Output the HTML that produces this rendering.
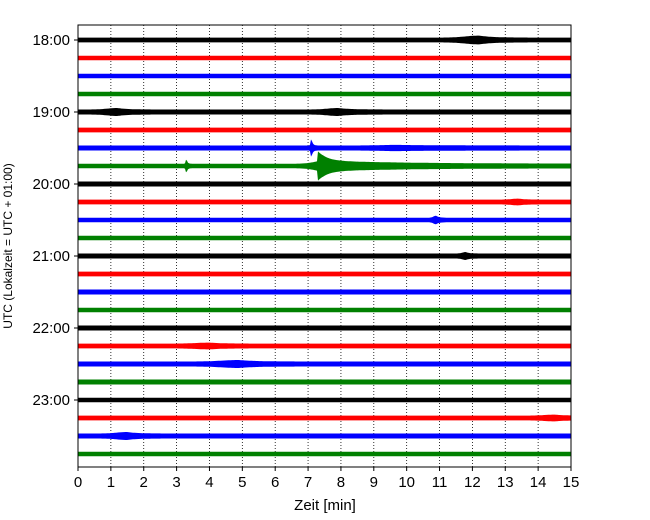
<!DOCTYPE html>
<html><head><meta charset="utf-8"><style>
body{margin:0;background:#fff;}
svg{display:block;font-family:"Liberation Sans","DejaVu Sans",sans-serif;}
</style></head><body>
<svg id="chart" width="650" height="520" viewBox="0 0 650 520">
<g id="grid"></g>
<g id="traces"></g>
<rect x="78" y="25" width="493" height="442" fill="none" stroke="#000" stroke-width="1"/>
<g id="xticks"></g>
<g id="yticks"></g>
<text x="325" y="510" font-size="15" text-anchor="middle">Zeit  [min]</text>
<text transform="translate(12,246) rotate(-90)" font-size="12" text-anchor="middle">UTC (Lokalzeit = UTC + 01:00)</text>
</svg>
<script>
const xTicks=[0,1,2,3,4,5,6,7,8,9,10,11,12,13,14,15];
const hourLabels=["18:00","19:00","20:00","21:00","22:00","23:00"];
const traceCount=24;
const colors=["#000000","#ff0000","#0000ff","#008000"];
// base half-amplitude per trace (px)
const baseAmp=[2.4,2.3,2.2,2.2,2.5,2.4,2.5,2.3,2.5,2.4,2.3,2.3,2.5,2.4,2.5,2.2,2.5,2.4,2.5,2.5,2.3,2.4,2.5,2.2];
// events: trace, minute, extra half-amplitude (px), rise width (min), decay (min)
const evTrace=[0,4,4,6,7,7,7,10,17,18,21,22,12,9,6];
const evMin=[12.2,1.2,7.9,7.1,3.3,7.3,7.5,10.9,4.0,4.9,14.5,1.5,11.8,13.4,9.7];
const evAmp=[2,1.5,1.5,7,5,10,3,2,1,1.5,1,1.5,1.5,1,0.6];
const evRise=[0.4,0.3,0.3,0.02,0.02,0.01,0.3,0.08,0.4,0.5,0.3,0.3,0.1,0.2,0.5];
const evDecay=[0.4,0.3,0.4,0.04,0.03,0.25,2.5,0.08,0.4,0.5,0.3,0.3,0.1,0.2,1.5];

const X0=78,X1=571,Y0=25,Y1=467,TOP=40,ROW=18;
const xs=m=>X0+(m/15)*(X1-X0);
const ys=i=>TOP+i*ROW;
const NS="http://www.w3.org/2000/svg";
function mk(t,a,p){const e=document.createElementNS(NS,t);for(const k in a)e.setAttribute(k,a[k]);p.appendChild(e);return e;}
const grid=document.getElementById('grid');
xTicks.forEach(t=>{if(t>0&&t<15){const l=mk('line',{x1:xs(t),x2:xs(t),y1:Y0,y2:Y1,stroke:'#000','stroke-width':0.8,'stroke-dasharray':'1,2'},grid);

}});
const xg=document.getElementById('xticks');
xTicks.forEach(t=>{mk('line',{x1:xs(t),x2:xs(t),y1:Y1,y2:Y1+4,stroke:'#000'},xg);
const tx=mk('text',{x:xs(t),y:Y1+20,'font-size':15,'text-anchor':'middle'},xg);tx.textContent=t;

});
const yg=document.getElementById('yticks');
hourLabels.forEach((h,k)=>{const y=ys(k*4);mk('line',{x1:X0-4,x2:X0,y1:y,y2:y,stroke:'#000'},yg);
const tx=mk('text',{x:X0-8,y:y+5,'font-size':15,'text-anchor':'end'},yg);tx.textContent=h;

});
const tg=document.getElementById('traces');
for(let i=0;i<traceCount;i++){
  const y=ys(i);const up=[],dn=[];
  for(let px=X0;px<=X1;px+=1){
    const m=(px-X0)/(X1-X0)*15;let a=baseAmp[i];
    for(let e=0;e<evTrace.length;e++){if(evTrace[e]!==i)continue;const d=m-evMin[e];
      const w=d<0?evRise[e]:evDecay[e];
      a+=evAmp[e]*Math.exp(-(d*d)/(2*w*w)*(d<0?1:0))*(d<0?1:Math.exp(-d/evDecay[e]));}
    up.push(px+','+(y-a).toFixed(1));dn.unshift(px+','+(y+a).toFixed(1));}
  const p=mk('polygon',{points:up.concat(dn).join(' '),fill:colors[i%4]},tg);
  
  
}
</script>
</body></html>
